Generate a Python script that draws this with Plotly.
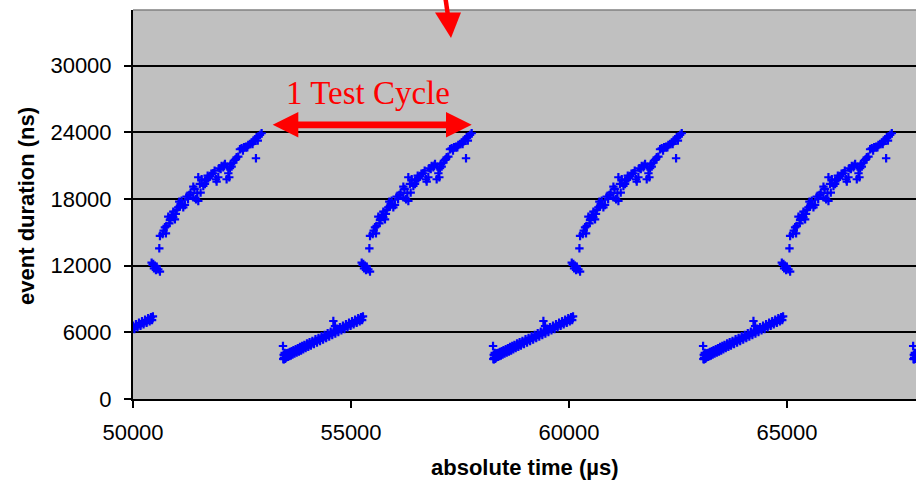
import plotly.graph_objects as go

# ---- data -------------------------------------------------------------
# Start time of each test cycle (µs)
cycle_start_us = [48622, 53440, 58258, 63076, 67894]

# Event pattern inside one test cycle: time since cycle start (µs) and event duration (ns)
offset_us = [
    0, 8, 15, 20, 22, 30, 38, 45, 50, 55, 65, 75, 85, 100, 115, 130, 145, 160, 180, 200,
    220, 240, 265, 290, 315, 340, 365, 390, 415, 440, 465, 490, 520, 550, 580, 610,
    640, 675, 710, 745, 780, 815, 850, 885, 920, 955, 990, 1025, 1060, 1095, 1130,
    1155, 1165, 1193, 1200, 1235, 1270, 1305, 1340, 1375, 1410, 1445, 1480, 1515,
    1550, 1585, 1620, 1655, 1690, 1725, 1760, 1790, 1815, 1835,
    1805, 1828, 1843, 1858, 1881, 1904, 1920, 1958, 1996, 1981,
    1996, 2057, 2110, 2133, 2149, 2187, 2210, 2225, 2263, 2302, 2302, 2340, 2378,
    2416, 2439, 2455, 2493, 2493, 2531, 2569, 2608, 2669, 2699, 2761, 2761, 2822,
    2852, 2875, 2875, 2929, 2952, 2990, 3028, 3028, 3066, 3105, 3143, 3181, 3219,
    3281, 3296, 3334, 3357, 3411, 3449, 3487, 3525, 3541, 3564, 3586, 3602, 3640,
    3678, 3716, 3755, 3793, 3831, 3869, 3923, 3969, 4022, 4060, 4099, 4137, 4175,
    4198, 4213, 4252, 4290, 4328,
    2080, 2240, 2360, 2470, 2640, 2790, 2910, 3090, 3250, 3390, 3470, 3620, 3740,
    3900, 4000, 4120, 4240,
]
duration_ns = [
    4770, 3600, 3980, 3580, 3700, 3950, 4150, 3680, 3620, 3980, 3720, 4100, 3780, 4120, 3800, 4170, 3860, 4230, 3920, 4310,
    4000, 4380, 4080, 4480, 4180, 4580, 4280, 4680, 4370, 4780, 4470, 4870, 4580, 4990, 4690, 5100,
    4810, 5230, 4950, 5370, 5080, 5500, 5220, 5640, 5350, 5770, 5490, 5910, 5630, 6050, 5760,
    7020, 6180, 6570, 5900, 6320, 6030, 6450, 6170, 6590, 6300, 6720, 6440, 6860,
    6580, 7000, 6710, 7130, 6850, 7270, 6990, 7350, 7100, 7430,
    12270, 12060, 12150, 11760, 11970, 11610, 11910, 11670, 11460, 13560,
    14670, 14850, 15450, 14910, 15570, 16410, 15810, 16110, 16560, 16350, 16860, 16170, 17010,
    17250, 17760, 17370, 17610, 17850, 17250, 17460, 18210, 18360, 18570, 18150, 19110, 17970,
    18510, 17820, 19950, 18570, 19770, 19170, 19350, 19650, 19710, 19860, 20070, 20250, 20310,
    19770, 19560, 19950, 20760, 20970, 20850, 21150, 19770, 20910, 20310, 19950, 20760, 20910,
    21270, 21510, 21750, 21810, 22470, 22560, 22650, 22710, 22860, 22950, 23070, 23160, 23370,
    21660, 23550, 23610, 23760, 23910,
    15150, 16200, 16650, 17550, 18000, 18900, 19350, 20100, 20550, 20700, 21000, 21150, 21600,
    22350, 22650, 22950, 23250,
]

x_tick_vals = [50000, 55000, 60000, 65000]
x_tick_text = ["50000", "55000", "60000", "65000"]
y_tick_vals = [0, 6000, 12000, 18000, 24000, 30000]
y_tick_text = ["0", "6000", "12000", "18000", "24000", "30000"]

# absolute event times for every cycle
abs_time_us = [s + o for s in cycle_start_us for o in offset_us]
event_ns = duration_ns * len(cycle_start_us)

# ---- figure -------------------------------------------------------------
W, H = 916, 482
ML, MR, MT, MB = 133, 0, 10, 83
PW, PH = W - ML - MR, H - MT - MB


def px(xp):
    return (xp - ML) / PW


def py(yp):
    return (MT + PH - yp) / PH


RED = "#FF0000"

fig = go.Figure(
    go.Scatter(
        x=abs_time_us,
        y=event_ns,
        mode="markers",
        marker=dict(symbol="cross-thin", size=6, color="#0000FF",
                    line=dict(width=2.2, color="#0000FF")),
        hoverinfo="skip",
    )
)

axis_font = dict(family="Liberation Sans, Arial, sans-serif", size=22, color="black")

fig.update_xaxes(
    range=[50000, 67959],
    tickvals=x_tick_vals, ticktext=x_tick_text,
    ticks="outside", ticklen=7, tickwidth=2, tickcolor="black",
    showline=True, linewidth=2, linecolor="black",
    showgrid=False, zeroline=False,
    tickfont=axis_font, ticklabelstandoff=6,
)
fig.update_yaxes(
    range=[0, 35000],
    tickvals=y_tick_vals, ticktext=y_tick_text,
    ticks="outside", ticklen=7, tickwidth=2, tickcolor="black",
    showline=True, linewidth=2, linecolor="black",
    showgrid=True, gridcolor="black", gridwidth=2,
    zeroline=False,
    tickfont=axis_font, ticklabelstandoff=8,
)

shapes = [
    # plot-area top border
    dict(type="line", xref="paper", yref="paper", x0=0, x1=1, y0=1, y1=1,
         line=dict(color="#808080", width=1.5), layer="above"),
    # downward arrow at the top
    dict(type="line", xref="paper", yref="paper",
         x0=px(445), y0=py(-5), x1=px(448), y1=py(16),
         line=dict(color=RED, width=4.5), layer="above"),
    dict(type="path", xref="paper", yref="paper",
         path=f"M {px(435)} {py(12.5)} L {px(461)} {py(12.5)} L {px(451)} {py(38)} Z",
         fillcolor=RED, line=dict(width=0), layer="above"),
    # double-headed "test cycle" arrow
    dict(type="rect", xref="paper", yref="paper",
         x0=px(296), x1=px(448), y0=py(121.5), y1=py(128.3),
         fillcolor=RED, line=dict(width=0), layer="above"),
    dict(type="path", xref="paper", yref="paper",
         path=f"M {px(272.7)} {py(124.8)} L {px(298.3)} {py(112)} L {px(298.3)} {py(137.5)} Z",
         fillcolor=RED, line=dict(width=0), layer="above"),
    dict(type="path", xref="paper", yref="paper",
         path=f"M {px(471.7)} {py(124.8)} L {px(446)} {py(112)} L {px(446)} {py(137.5)} Z",
         fillcolor=RED, line=dict(width=0), layer="above"),
]

annotations = [
    dict(text="1 Test Cycle", xref="paper", yref="paper",
         x=px(367.5), y=py(93.2), xanchor="center", yanchor="middle",
         showarrow=False,
         font=dict(family="Liberation Serif, Times New Roman, serif", size=33, color=RED)),
    dict(text="<b>event duration (ns)</b>", xref="paper", yref="paper",
         x=px(26.4), y=py(205.5), xanchor="center", yanchor="middle",
         textangle=-90, showarrow=False, font=axis_font),
    dict(text="<b>absolute time (µs)</b>", xref="paper", yref="paper",
         x=px(524.5), y=py(467), xanchor="center", yanchor="middle",
         showarrow=False, font=axis_font),
]

fig.update_layout(
    width=W, height=H,
    margin=dict(l=ML, r=MR, t=MT, b=MB, pad=0),
    paper_bgcolor="white",
    plot_bgcolor="#C0C0C0",
    showlegend=False,
    shapes=shapes,
    annotations=annotations,
)

fig.write_html("out.html", config={"displayModeBar": False})
